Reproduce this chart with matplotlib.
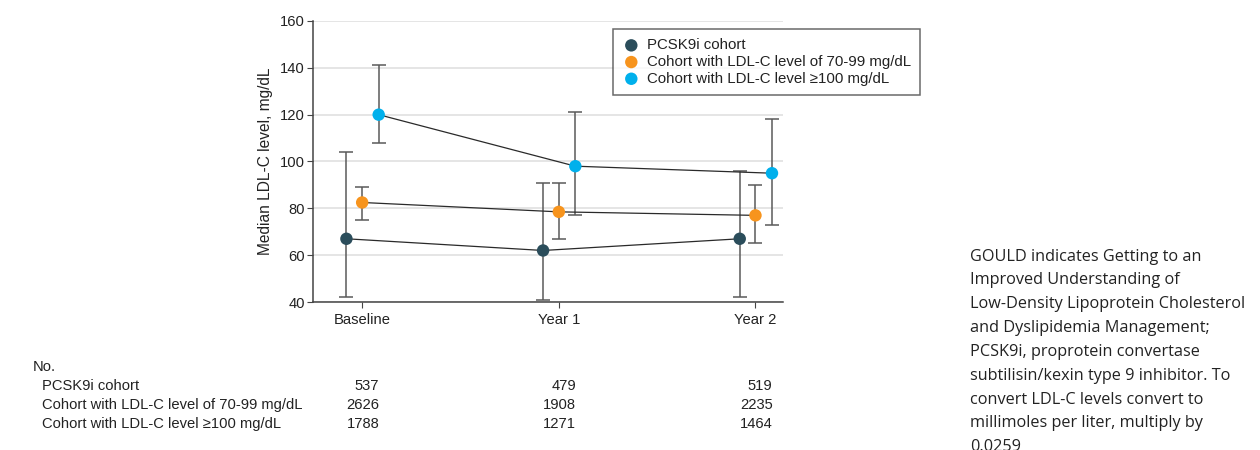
import matplotlib
matplotlib.use("Agg")
import matplotlib.pyplot as plt
import numpy as np

categories = ["Baseline", "Year 1", "Year 2"]
series_names = ["PCSK9i cohort",
                "Cohort with LDL-C level of 70-99 mg/dL",
                "Cohort with LDL-C level \u2265100 mg/dL"]
pcsk9_median = [67, 62, 67]
pcsk9_low = [42, 41, 42]
pcsk9_high = [104, 91, 96]
mid_median = [82.5, 78.5, 77]
mid_low = [75, 67, 65]
mid_high = [89, 91, 90]
high_median = [120, 98, 95]
high_low = [108, 77, 73]
high_high = [141, 121, 118]
n_pcsk9 = ["537", "479", "519"]
n_mid = ["2626", "1908", "2235"]
n_high = ["1788", "1271", "1464"]
yticks = [40, 60, 80, 100, 120, 140, 160]
caption_lines = ["GOULD indicates Getting to an",
                 "Improved Understanding of",
                 "Low-Density Lipoprotein Cholesterol",
                 "and Dyslipidemia Management;",
                 "PCSK9i, proprotein convertase",
                 "subtilisin/kexin type 9 inhibitor. To",
                 "convert LDL-C levels convert to",
                 "millimoles per liter, multiply by",
                 "0.0259"]

colors = ["#2b4d5b", "#f7941d", "#00b0ec"]
offsets = [-0.08, 0.0, 0.084]

main_font = ["Liberation Sans", "DejaVu Sans"]
plt.rcParams["font.family"] = main_font
FS = 10.6

W, H = 1260.0, 450.0
fig = plt.figure(figsize=(12.6, 4.5), dpi=100)
ax = fig.add_axes([313 / W, 1 - 302 / H, (783 - 313) / W, (302 - 21) / H])

x = np.arange(len(categories))
data = [(pcsk9_median, pcsk9_low, pcsk9_high),
        (mid_median, mid_low, mid_high),
        (high_median, high_low, high_high)]
handles = []
for (med, lo, hi), c, off, name in zip(data, colors, offsets, series_names):
    med = np.array(med, float)
    yerr = np.vstack([med - np.array(lo), np.array(hi) - med])
    xs = x + off
    ax.errorbar(xs, med, yerr=yerr, fmt="none", ecolor="#5a5a5a",
                elinewidth=1.1, capsize=4.7, capthick=1.1, zorder=2)
    ax.plot(xs, med, color="#2a2a2a", lw=0.9, zorder=3)
    h = ax.scatter(xs, med, s=80, color=c, zorder=4, edgecolors="none",
                   label=name)
    handles.append(h)

ax.set_xlim(-0.25, 2.14)
ax.set_ylim(40, 160)
ax.set_yticks(yticks)
ax.set_xticks(x)
ax.set_xticklabels(categories)
ax.tick_params(axis="both", labelsize=FS, color="#444444", labelcolor="#222222")
ax.tick_params(axis="y", length=4, pad=2)
ax.tick_params(axis="x", length=4, pad=4)
ax.grid(axis="y", color="#e0e0e0", lw=1.2)
ax.set_axisbelow(True)
for s in ["top", "right"]:
    ax.spines[s].set_visible(False)
for s in ["left", "bottom"]:
    ax.spines[s].set_color("#444444")
    ax.spines[s].set_linewidth(1.1)
ax.set_ylabel("Median LDL-C level, mg/dL", fontsize=11.2, labelpad=5,
              color="#222222")

leg = fig.legend(handles=handles, loc="upper left",
                 bbox_to_anchor=(613 / W, 1 - 29 / H), borderaxespad=0,
                 frameon=True, fancybox=False,
                 handletextpad=0.45, labelspacing=0.18, borderpad=0.62,
                 handlelength=1.2, prop={"family": main_font, "size": 10.8})
leg.get_frame().set_edgecolor("#444444")
leg.get_frame().set_linewidth(1.1)
for t in leg.get_texts():
    t.set_color("#222222")

# Number table
def fy(py):
    return 1 - py / H
fig.text(33 / W, fy(367), "No.", fontsize=FS, va="center", ha="left", color="#222222")
row_vals = [n_pcsk9, n_mid, n_high]
row_y = [386, 405, 424]
for lab, vals, py in zip(series_names, row_vals, row_y):
    fig.text(42 / W, fy(py), lab, fontsize=FS, va="center", ha="left", color="#222222")
    for xi, v in zip(x, vals):
        disp = ax.transData.transform((xi + 0.087, 0))[0]
        fig.text(disp / W, fy(py), v, fontsize=FS, va="center", ha="right",
                 color="#222222")

# Caption
for i, line in enumerate(caption_lines):
    fig.text(970 / W, fy(260.7 + 23.8 * i), line, fontsize=11.7, va="baseline",
             ha="left", family=["Open Sans", "DejaVu Sans"], color="#222222")

fig.savefig("out.png", dpi=100)
